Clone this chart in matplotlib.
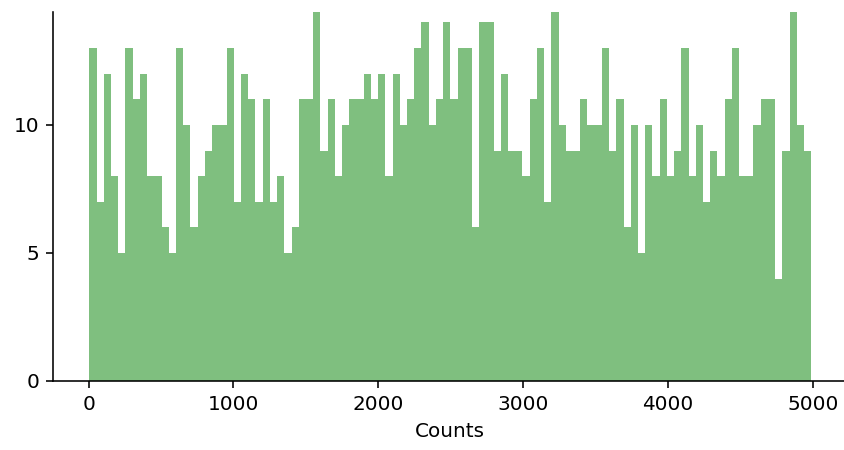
import numpy as np
import matplotlib
matplotlib.use("Agg")
import matplotlib.pyplot as plt

# histogram counts, 100 bins
counts = [13, 7, 12, 8, 5, 13, 11, 12, 8, 8, 6, 5, 13, 10, 6, 8, 9, 10, 10, 13, 7, 12, 11, 7, 11,
          7, 8, 5, 6, 11, 11, 15, 9, 11, 8, 10, 11, 11, 12, 11, 12, 8, 12, 10, 11, 13, 14, 10, 11, 14,
          11, 13, 13, 6, 14, 14, 9, 12, 9, 9, 8, 11, 13, 7, 15, 10, 9, 9, 11, 10, 10, 13, 9, 11, 6,
          10, 5, 10, 8, 11, 8, 9, 13, 8, 10, 7, 9, 8, 11, 13, 8, 8, 10, 11, 11, 4, 9, 15, 10, 9]
x_min = 5
x_max = 4989
edges = np.linspace(x_min, x_max, len(counts) + 1)

fig = plt.figure(figsize=(844 / 144, 450 / 144), dpi=144)
ax = fig.add_axes([53.3 / 844, 69 / 450, 794 / 844, 369 / 450])
ax.bar(edges[:-1], counts, width=np.diff(edges), align='edge', color='green', alpha=0.5)
ax.set_xlim(x_min - 0.05 * (x_max - x_min), x_max + 0.05 * (x_max - x_min))
ax.set_ylim(0, 14.41)
ax.set_yticks([0, 5, 10])
ax.set_xticks([0, 1000, 2000, 3000, 4000, 5000])
ax.spines['top'].set_visible(False)
ax.spines['right'].set_visible(False)
ax.set_xlabel('Counts')
fig.savefig('out.png', dpi=144)
